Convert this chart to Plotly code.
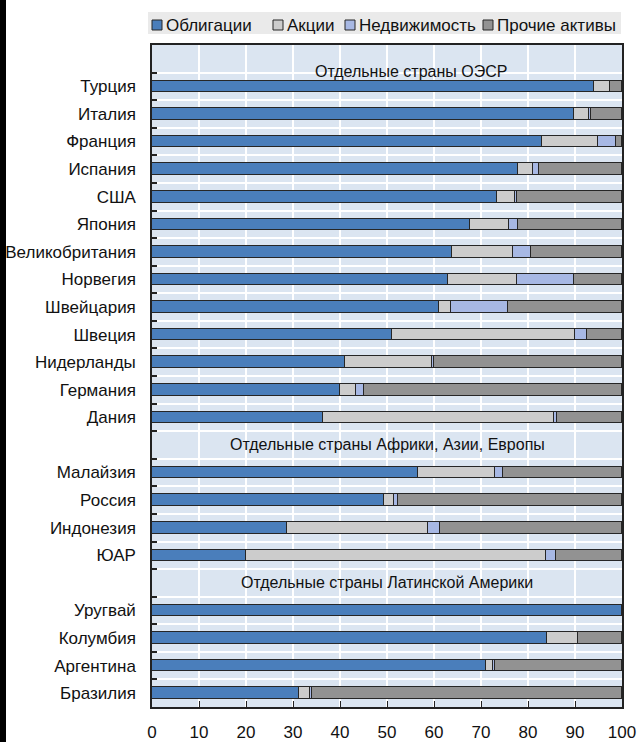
import plotly.graph_objects as go

# ---- data ----
rows = ["Отдельные страны ОЭСР",
        "Турция", "Италия", "Франция", "Испания", "США", "Япония", "Великобритания",
        "Норвегия", "Швейцария", "Швеция", "Нидерланды", "Германия", "Дания",
        "Отдельные страны Африки, Азии, Европы",
        "Малайзия", "Россия", "Индонезия", "ЮАР",
        "Отдельные страны Латинской Америки",
        "Уругвай", "Колумбия", "Аргентина", "Бразилия"]
headers = ["Отдельные страны ОЭСР",
           "Отдельные страны Африки, Азии, Европы",
           "Отдельные страны Латинской Америки"]
countries = [r for r in rows if r not in headers]

bonds = [94.0, 89.7, 83.0, 77.8, 73.4, 67.7, 63.8, 63.0, 61.1, 51.1, 41.0, 40.1, 36.3,
         56.5, 49.3, 28.7, 20.0,
         100.0, 84.0, 71.0, 31.3]
shares = [3.4, 3.2, 11.9, 3.3, 3.8, 8.3, 13.0, 14.7, 2.5, 38.8, 18.6, 3.3, 49.2,
          16.4, 2.1, 30.0, 63.8,
          0.0, 6.6, 1.6, 2.3]
real_estate = [0.0, 0.4, 3.8, 1.2, 0.5, 1.8, 3.9, 12.0, 12.1, 2.7, 0.5, 1.6, 0.7,
               1.7, 0.9, 2.6, 2.1,
               0.0, 0.0, 0.4, 0.4]
other = [2.6, 6.7, 1.3, 17.7, 22.3, 22.2, 19.3, 10.3, 24.3, 7.4, 39.9, 55.0, 13.8,
         25.4, 47.7, 38.7, 14.1,
         0.0, 9.4, 27.0, 66.0]

series_names = ["Облигации", "Акции", "Недвижимость", "Прочие активы"]
series_values = [bonds, shares, real_estate, other]
series_colors = ["#4A7EBB", "#CCCCCC", "#A7B8E4", "#929292"]
x_ticks = [0, 10, 20, 30, 40, 50, 60, 70, 80, 90, 100]

FONT = "Liberation Sans, Arial, sans-serif"
W, H = 639, 742
ML, MR, MT, MB = 152, 17, 45, 35
PW, PH = W - ML - MR, H - MT - MB


def px2x(px):
    return (px - ML) / PW


def py2y(py):
    return (H - MB - py) / PH


ypos = [rows.index(c) for c in countries]

fig = go.Figure()
for name, vals, col in zip(series_names, series_values, series_colors):
    fig.add_trace(go.Bar(
        x=vals, y=ypos, orientation="h", name=name, width=0.42,
        marker=dict(color=col, line=dict(color="#262626", width=1)),
        showlegend=False,
    ))

# invisible trace for the boundary axis (gridlines + inside ticks)
fig.add_trace(go.Scatter(x=[None], y=[None], yaxis="y2", showlegend=False))

n = len(rows)
boundaries = [i + 0.5 for i in range(n - 1)]

fig.update_layout(
    width=W, height=H,
    margin=dict(l=ML, r=MR, t=MT, b=MB, pad=0, autoexpand=False),
    paper_bgcolor="white",
    plot_bgcolor="#DBE5F1",
    barmode="stack",
    bargap=0,
    font=dict(family=FONT, size=17, color="#111111"),
    xaxis=dict(
        range=[0, 100], tickvals=x_ticks, ticks="inside", ticklen=6,
        tickcolor="#222222", showgrid=True, gridcolor="white", gridwidth=1.5,
        showline=True, linecolor="#222222", linewidth=1.5, mirror=True,
        zeroline=False, ticklabelstandoff=9, automargin=False,
        tickfont=dict(size=17, family=FONT, color="#111111"),
    ),
    yaxis=dict(
        range=[n - 0.5, -0.5], tickvals=ypos, ticktext=countries,
        ticks="", showgrid=False, zeroline=False,
        showline=True, linecolor="#222222", linewidth=1.5, mirror=True,
        ticklabelstandoff=11, automargin=False,
        tickfont=dict(size=17, family=FONT, color="#111111"),
    ),
    yaxis2=dict(
        overlaying="y", side="left", range=[n - 0.5, -0.5],
        tickvals=boundaries, ticktext=["" for _ in boundaries],
        ticks="inside", ticklen=5, tickcolor="#222222", tickwidth=1.5,
        showgrid=True, gridcolor="white", gridwidth=1.5, zeroline=False,
        showline=False, automargin=False,
    ),
)

# group headers
header_x = {headers[0]: 55.1, headers[1]: 50.0, headers[2]: 50.0}
header_dy = {headers[0]: 0.45, headers[1]: 0.0, headers[2]: 0.0}
for h in headers:
    fig.add_annotation(x=header_x[h], y=rows.index(h) + header_dy[h], xref="x", yref="y",
                       text=h, showarrow=False,
                       font=dict(size=16, family=FONT, color="#111111"),
                       xanchor="center", yanchor="middle")

# legend (manual)
shapes = []
shapes.append(dict(type="rect", xref="paper", yref="paper",
                   x0=px2x(148), x1=px2x(621), y0=py2y(34), y1=py2y(12),
                   fillcolor="#EAEAEA", line=dict(width=0), layer="below"))
leg_sq_px = [152, 273, 345, 483]
for name, col, sx in zip(series_names, series_colors, leg_sq_px):
    shapes.append(dict(type="rect", xref="paper", yref="paper",
                       x0=px2x(sx), x1=px2x(sx + 10), y0=py2y(30), y1=py2y(20),
                       fillcolor=col, line=dict(color="#262626", width=1)))
    fig.add_annotation(x=px2x(sx + 12), y=py2y(25), xref="paper", yref="paper",
                       text=name, showarrow=False, xanchor="left", yanchor="middle",
                       font=dict(size=17, family=FONT, color="#111111"))

# black strip on the left edge
shapes.append(dict(type="rect", xref="paper", yref="paper", layer="above",
                   x0=px2x(0), x1=px2x(6), y0=py2y(H), y1=py2y(0),
                   fillcolor="black", line=dict(width=0)))
fig.update_layout(shapes=shapes)

fig.write_html("out.html", config={"displayModeBar": False},
               post_script="document.body.style.margin='0';")
